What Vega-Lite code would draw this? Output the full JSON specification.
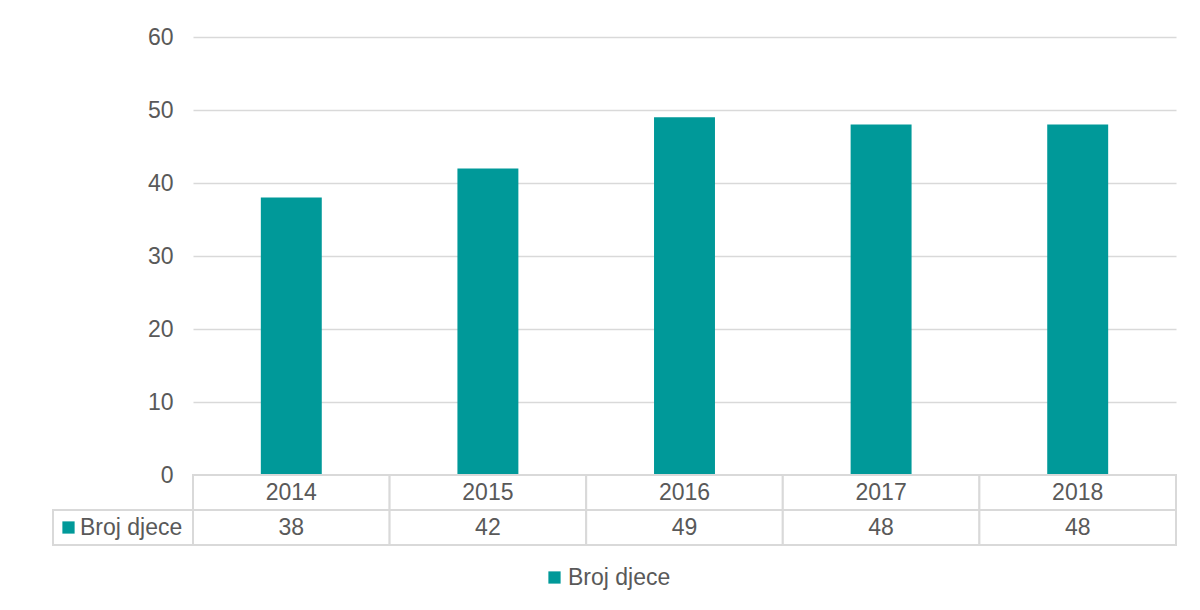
{
  "$schema": "https://vega.github.io/schema/vega-lite/v6.json",
  "padding": {"left": 52, "top": 26, "right": 5, "bottom": 5},
  "background": "white",
  "config": {"view": {"stroke": null}, "font": "Liberation Sans"},
  "datasets": {
    "main": [
      {"godina": "2014", "series": "Broj djece", "broj": 38},
      {"godina": "2015", "series": "Broj djece", "broj": 42},
      {"godina": "2016", "series": "Broj djece", "broj": 49},
      {"godina": "2017", "series": "Broj djece", "broj": 48},
      {"godina": "2018", "series": "Broj djece", "broj": 48}
    ],
    "series": [{"series": "Broj djece"}]
  },
  "columns": 2,
  "spacing": 0,
  "bounds": "flush",
  "resolve": {"scale": {"color": "independent"}, "legend": {"color": "independent"}},
  "concat": [
    {
      "width": 140, "height": 438,
      "data": {"values": []},
      "mark": "text",
      "encoding": {}
    },
    {
      "width": 983, "height": 438,
      "data": {"name": "main"},
      "mark": {"type": "bar"},
      "encoding": {
        "x": {"field": "godina", "type": "nominal", "axis": null, "scale": {"paddingInner": 0.69, "paddingOuter": 0.345}},
        "y": {"field": "broj", "type": "quantitative", "scale": {"domain": [0, 60]},
          "axis": {"values": [0, 10, 20, 30, 40, 50, 60], "grid": true, "gridColor": "#d9d9d9", "gridWidth": 1.3,
            "domain": false, "ticks": false, "tickSize": 0, "labelFontSize": 23, "labelColor": "#595959",
            "labelPadding": 20, "title": null, "labelFont": "Liberation Sans"}},
        "color": {"field": "series", "type": "nominal", "scale": {"range": ["#009999"]},
          "legend": {"orient": "none", "legendX": 350, "legendY": 529, "title": null, "symbolType": "square",
            "symbolSize": 150, "symbolStrokeWidth": 0, "labelFontSize": 23, "labelColor": "#595959",
            "labelFont": "Liberation Sans", "labelOffset": 2, "padding": 0}}
      }
    },
    {
      "width": 140, "height": 70,
      "data": {"name": "series"},
      "layer": [
        {
          "mark": {"type": "rect", "fill": "white", "stroke": "#d9d9d9", "strokeWidth": 2},
          "encoding": {
            "y": {"datum": "broj", "type": "nominal", "scale": {"domain": ["godina", "broj"], "paddingInner": 0, "paddingOuter": 0}, "axis": null}
          }
        },
        {
          "mark": {"type": "point", "filled": true, "shape": "square", "size": 0, "opacity": 0},
          "encoding": {
            "color": {"field": "series", "type": "nominal", "scale": {"range": ["#009999"]},
              "legend": {"orient": "none", "legendX": 4, "legendY": 41, "title": null, "symbolType": "square",
                "symbolSize": 150, "symbolStrokeWidth": 0, "symbolOpacity": 1, "labelFontSize": 23, "labelColor": "#595959",
                "labelFont": "Liberation Sans", "labelOffset": 0, "padding": 0}}
          }
        }
      ]
    },
    {
      "width": 983, "height": 70,
      "data": {"name": "main"},
      "transform": [{"fold": ["godina", "broj"], "as": ["red", "val"]}],
      "encoding": {
        "x": {"field": "godina", "type": "nominal", "axis": null, "scale": {"paddingInner": 0, "paddingOuter": 0}},
        "y": {"field": "red", "type": "nominal", "axis": null, "scale": {"domain": ["godina", "broj"], "paddingInner": 0, "paddingOuter": 0}}
      },
      "layer": [
        {"mark": {"type": "rect", "fill": "white", "stroke": "#d9d9d9", "strokeWidth": 2}},
        {"mark": {"type": "text", "fontSize": 23, "color": "#595959", "font": "Liberation Sans"},
          "encoding": {"text": {"field": "val", "type": "nominal"}}}
      ]
    }
  ]
}
